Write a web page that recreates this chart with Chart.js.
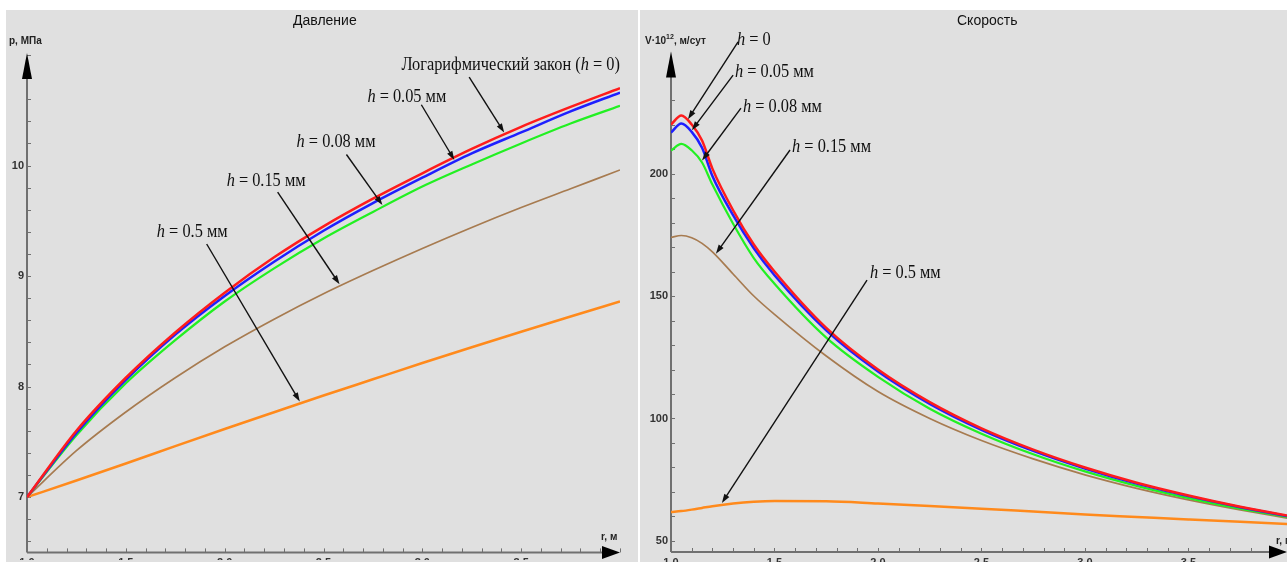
<!DOCTYPE html>
<html>
<head>
<meta charset="utf-8">
<script src="https://cdn.jsdelivr.net/npm/chart.js@4.4.1/dist/chart.umd.min.js"></script>
<style>
  html, body { margin: 0; padding: 0; background: #fff; }
  body { width: 1287px; height: 562px; overflow: hidden; position: relative; }
  #pressure-chart { position: absolute; left: 6px; top: 10px; }
  #velocity-chart { position: absolute; left: 640px; top: 10px; }
</style>
</head>
<body>
<canvas id="pressure-chart" width="632" height="552"></canvas>
<canvas id="velocity-chart" width="647" height="552"></canvas>
<script>
// ---- data ----
var seriesNames = ["h = 0", "h = 0.05 мм", "h = 0.08 мм", "h = 0.15 мм", "h = 0.5 мм"];
var seriesColors = ["#ff1c1c", "#1f1fff", "#22f022", "#a77b50", "#ff8a1c"];

// pressure, MPa
var radiusP = [1.0, 1.25, 1.5, 1.75, 2.0, 2.25, 2.5, 2.75, 3.0, 3.25, 3.5, 3.75, 4.0];
var pressureH0 = [7.00, 7.60, 8.08, 8.49, 8.85, 9.17, 9.45, 9.70, 9.93, 10.15, 10.35, 10.53, 10.70];
var pressureH005 = [7.00, 7.58, 8.06, 8.47, 8.82, 9.13, 9.41, 9.66, 9.89, 10.11, 10.30, 10.49, 10.66];
var pressureH008 = [7.00, 7.56, 8.03, 8.42, 8.77, 9.07, 9.34, 9.58, 9.81, 10.01, 10.20, 10.38, 10.54];
var pressureH015 = [7.00, 7.42, 7.77, 8.08, 8.36, 8.61, 8.84, 9.05, 9.25, 9.44, 9.62, 9.79, 9.96];
var pressureH05 = [7.000, 7.150, 7.304, 7.461, 7.616, 7.768, 7.919, 8.066, 8.213, 8.356, 8.496, 8.634, 8.770];

// velocity, V*10^12 m/day
var radiusV = [1.0, 1.05, 1.1, 1.15, 1.2, 1.3, 1.4, 1.5, 1.75, 2.0, 2.25, 2.5, 2.75, 3.0, 3.25, 3.5, 3.75, 4.0];
var velocityH0 = [220, 223.7, 220, 213.5, 202, 185, 171, 160, 137, 120, 106.7, 96, 87.3, 80, 73.8, 68.6, 64, 60];
var velocityH005 = [216.7, 220.4, 217, 210.5, 199, 183, 169.5, 158.5, 136, 119.2, 106, 95.4, 86.8, 79.6, 73.4, 68.3, 63.8, 59.8];
var velocityH008 = [209.4, 212.1, 209.5, 204.5, 195.5, 179.5, 165.5, 155, 133, 117, 104, 93.8, 85.4, 78.4, 72.5, 67.5, 63.2, 59.5];
var velocityH015 = [173.9, 174.7, 173.8, 171.5, 168, 159, 150, 142.5, 125.5, 111, 100, 91, 83.5, 77, 71.5, 66.8, 62.7, 59];
var velocityH05 = [61.8, 62.2, 62.8, 63.5, 64.2, 65.3, 66.0, 66.3, 66.2, 65.3, 64.3, 63.2, 62.0, 60.8, 59.8, 58.8, 57.8, 56.8];

// tick labels
var ticksRadius = [1.0, 1.5, 2.0, 2.5, 3.0, 3.5];
var ticksPressure = [7, 8, 9, 10];
var ticksVelocity = [50, 100, 150, 200];

var TICK_FONT = { family: '"Liberation Sans Narrow", "Liberation Sans", Arial, sans-serif', size: 11, weight: "bold" };
var SERIF = '"Liberation Serif", "Times New Roman", serif';

function toPoints(xs, ys) {
  return xs.map(function (x, i) { return { x: x, y: ys[i] }; });
}

// value of a series at r (straight between read points), used to put arrow tips on the curves
function valueAt(xs, ys, r) {
  for (var i = 1; i < xs.length; i++) {
    if (r <= xs[i]) {
      var t = (r - xs[i - 1]) / (xs[i] - xs[i - 1]);
      return ys[i - 1] + t * (ys[i] - ys[i - 1]);
    }
  }
  return ys[ys.length - 1];
}

function drawRich(ctx, parts, x, y, size, squeeze) {
  ctx.save();
  ctx.translate(x, y);
  ctx.scale(squeeze, 1);
  ctx.textBaseline = "middle";
  ctx.textAlign = "left";
  ctx.fillStyle = "#111";
  var cx = 0;
  parts.forEach(function (p) {
    ctx.font = (p[1] ? "italic " : "") + size + "px " + SERIF;
    ctx.fillText(p[0], cx, 0);
    cx += ctx.measureText(p[0]).width;
  });
  ctx.restore();
}

function drawArrow(ctx, x1, y1, x2, y2) {
  var ang = Math.atan2(y2 - y1, x2 - x1);
  var len = 9, half = 3;
  ctx.save();
  ctx.strokeStyle = "#111";
  ctx.fillStyle = "#111";
  ctx.lineWidth = 1.4;
  ctx.beginPath();
  ctx.moveTo(x1, y1);
  ctx.lineTo(x2 - Math.cos(ang) * len * 0.8, y2 - Math.sin(ang) * len * 0.8);
  ctx.stroke();
  ctx.beginPath();
  ctx.moveTo(x2, y2);
  ctx.lineTo(x2 - Math.cos(ang) * len - Math.sin(ang) * half, y2 - Math.sin(ang) * len + Math.cos(ang) * half);
  ctx.lineTo(x2 - Math.cos(ang) * len + Math.sin(ang) * half, y2 - Math.sin(ang) * len - Math.cos(ang) * half);
  ctx.closePath();
  ctx.fill();
  ctx.restore();
}

function minorTicks(scale, step) {
  var out = [];
  var n0 = Math.ceil(scale.min / step - 1e-9), n1 = Math.floor(scale.max / step + 1e-9);
  for (var n = n0; n <= n1; n++) out.push(n * step);
  return out;
}

// background, axes with arrows, titles and the annotations
function decorPlugin(cfg) {
  return {
    id: "decor",
    beforeDraw: function (chart) {
      var ctx = chart.ctx;
      ctx.save();
      ctx.fillStyle = "#e0e0e0";
      ctx.fillRect(0, 0, chart.width, chart.height);
      ctx.restore();
    },
    beforeDatasetsDraw: function (chart) {
      var ctx = chart.ctx, a = chart.chartArea, xs = chart.scales.x, ys = chart.scales.y;
      ctx.save();
      ctx.strokeStyle = "#707070";
      ctx.lineWidth = 2;
      ctx.beginPath();
      ctx.moveTo(a.left, a.bottom);
      ctx.lineTo(a.left, a.top + 5);
      ctx.moveTo(a.left, a.bottom);
      ctx.lineTo(a.right - 5, a.bottom);
      ctx.stroke();
      ctx.lineWidth = 1;
      ctx.beginPath();
      minorTicks(ys, cfg.minorY).forEach(function (v) {
        var py = Math.round(ys.getPixelForValue(v)) + 0.5;
        ctx.moveTo(a.left, py);
        ctx.lineTo(a.left + 4, py);
      });
      minorTicks(xs, cfg.minorX).forEach(function (v) {
        var px = Math.round(xs.getPixelForValue(v)) + 0.5;
        ctx.moveTo(px, a.bottom);
        ctx.lineTo(px, a.bottom - 4);
      });
      ctx.stroke();
      ctx.restore();
    },
    afterDatasetsDraw: function (chart) {
      var ctx = chart.ctx, a = chart.chartArea, xs = chart.scales.x, ys = chart.scales.y;
      ctx.save();
      ctx.fillStyle = "#000";
      // y arrow
      ctx.beginPath();
      ctx.moveTo(a.left, a.top - 2);
      ctx.lineTo(a.left - 5, a.top + 24);
      ctx.lineTo(a.left + 5, a.top + 24);
      ctx.closePath();
      ctx.fill();
      // x arrow
      ctx.beginPath();
      ctx.moveTo(a.right, a.bottom);
      ctx.lineTo(a.right - 18, a.bottom - 6.5);
      ctx.lineTo(a.right - 18, a.bottom + 6.5);
      ctx.closePath();
      ctx.fill();

      // title
      ctx.font = "14px \"Liberation Sans\", Arial, sans-serif";
      ctx.fillStyle = "#111";
      ctx.textBaseline = "middle";
      ctx.textAlign = "left";
      ctx.fillText(cfg.title, cfg.titleX, 11);

      // axis names
      ctx.fillStyle = "#222";
      var yx = cfg.yLabelX;
      cfg.yLabel.forEach(function (p) {
        ctx.font = "bold " + (p[1] ? 7 : 10) + "px \"Liberation Sans Narrow\", \"Liberation Sans\", Arial, sans-serif";
        ctx.fillText(p[0], yx, p[1] ? 27 : 31);
        yx += ctx.measureText(p[0]).width;
      });
      ctx.font = "bold 10px \"Liberation Sans Narrow\", \"Liberation Sans\", Arial, sans-serif";
      ctx.fillText(cfg.xLabel, a.right - cfg.xLabelDx, a.bottom - cfg.xLabelDy);

      // annotations
      cfg.notes.forEach(function (n) {
        var s = cfg.series[n.series];
        var tipX = xs.getPixelForValue(n.tipR);
        var tipY = ys.getPixelForValue(valueAt(s[0], s[1], n.tipR));
        drawArrow(ctx, xs.getPixelForValue(n.from[0]), ys.getPixelForValue(n.from[1]), tipX, tipY - 2);
        drawRich(ctx, n.parts, xs.getPixelForValue(n.at[0]), ys.getPixelForValue(n.at[1]), 19, 0.86);
      });
      ctx.restore();
    }
  };
}

function makeDatasets(xs, list) {
  return list.map(function (ys, i) {
    return {
      label: seriesNames[i],
      data: toPoints(xs, ys),
      borderColor: seriesColors[i],
      borderWidth: i === 3 ? 1.7 : (i === 2 ? 2.2 : 2.5),
      pointRadius: 0,
      cubicInterpolationMode: "monotone",
      fill: false
    };
  });
}

function makeOptions(o) {
  return {
    responsive: false,
    animation: false,
    devicePixelRatio: 1,
    layout: { padding: o.padding },
    plugins: { legend: { display: false }, tooltip: { enabled: false } },
    scales: {
      x: {
        type: "linear",
        min: o.xMin,
        max: o.xMax,
        grid: { display: false, drawTicks: false },
        border: { display: false },
        afterBuildTicks: function (scale) {
          scale.ticks = ticksRadius.map(function (v) { return { value: v }; });
        },
        afterFit: function (scale) { scale.height = o.xHeight; },
        ticks: {
          padding: 4,
          maxRotation: 0,
          autoSkip: false,
          color: "#333",
          font: TICK_FONT,
          callback: function (v) { return Number(v).toFixed(1); }
        }
      },
      y: {
        type: "linear",
        min: o.yMin,
        max: o.yMax,
        grid: { display: false, drawTicks: false },
        border: { display: false },
        afterBuildTicks: function (scale) {
          scale.ticks = o.yTicks.map(function (v) { return { value: v }; });
        },
        afterFit: function (scale) { scale.width = o.yWidth; },
        ticks: {
          padding: 3,
          autoSkip: false,
          color: "#333",
          font: TICK_FONT,
          callback: function (v) { return String(v); }
        }
      }
    }
  };
}

var pressureSeries = [pressureH0, pressureH005, pressureH008, pressureH015, pressureH05];
var velocitySeries = [velocityH0, velocityH005, velocityH008, velocityH015, velocityH05];

new Chart(document.getElementById("pressure-chart").getContext("2d"), {
  type: "line",
  data: { datasets: makeDatasets(radiusP, pressureSeries) },
  options: makeOptions({
    padding: { top: 45, right: 18, bottom: 0, left: 0 },
    xMin: 1, xMax: 4, yMin: 6.5, yMax: 11,
    yTicks: ticksPressure, yWidth: 21, xHeight: 7.5
  }),
  plugins: [decorPlugin({
    title: "Давление", titleX: 287,
    yLabel: [["p, МПа", 0]], yLabelX: 3,
    xLabel: "r, м", xLabelDx: 19, xLabelDy: 15,
    minorX: 0.1, minorY: 0.2,
    series: pressureSeries.map(function (ys) { return [radiusP, ys]; }),
    notes: [
      { parts: [["Логарифмический закон (", 0], ["h", 1], [" = 0)", 0]], at: [2.894, 10.91], from: [3.237, 10.80], series: 0, tipR: 3.414 },
      { parts: [["h", 1], [" = 0.05 мм", 0]], at: [2.722, 10.62], from: [2.995, 10.55], series: 1, tipR: 3.162 },
      { parts: [["h", 1], [" = 0.08 мм", 0]], at: [2.364, 10.21], from: [2.616, 10.10], series: 2, tipR: 2.798 },
      { parts: [["h", 1], [" = 0.15 мм", 0]], at: [2.01, 9.86], from: [2.268, 9.76], series: 3, tipR: 2.581 },
      { parts: [["h", 1], [" = 0.5 мм", 0]], at: [1.657, 9.40], from: [1.909, 9.29], series: 4, tipR: 2.38 }
    ]
  })]
});

new Chart(document.getElementById("velocity-chart").getContext("2d"), {
  type: "line",
  data: { datasets: makeDatasets(radiusV, velocitySeries) },
  options: makeOptions({
    padding: { top: 43.5, right: 0, bottom: 0, left: 0 },
    xMin: 1, xMax: 3.976, yMin: 45.5, yMax: 249,
    yTicks: ticksVelocity, yWidth: 31, xHeight: 10
  }),
  plugins: [decorPlugin({
    title: "Скорость", titleX: 317,
    yLabel: [["V·10", 0], ["12", 1], [", м/сут", 0]], yLabelX: 5,
    xLabel: "r, м", xLabelDx: 11, xLabelDy: 11,
    minorX: 0.1, minorY: 10,
    series: velocitySeries.map(function (ys) { return [radiusV, ys]; }),
    notes: [
      { parts: [["h", 1], [" = 0", 0]], at: [1.319, 254.5], from: [1.324, 253.7], series: 0, tipR: 1.082 },
      { parts: [["h", 1], [" = 0.05 мм", 0]], at: [1.309, 241.4], from: [1.30, 240.2], series: 1, tipR: 1.101 },
      { parts: [["h", 1], [" = 0.08 мм", 0]], at: [1.348, 227.1], from: [1.338, 226.7], series: 2, tipR: 1.15 },
      { parts: [["h", 1], [" = 0.15 мм", 0]], at: [1.585, 210.8], from: [1.575, 209.6], series: 3, tipR: 1.217 },
      { parts: [["h", 1], [" = 0.5 мм", 0]], at: [1.961, 159.4], from: [1.947, 156.5], series: 4, tipR: 1.246 }
    ]
  })]
});
</script>
</body>
</html>
